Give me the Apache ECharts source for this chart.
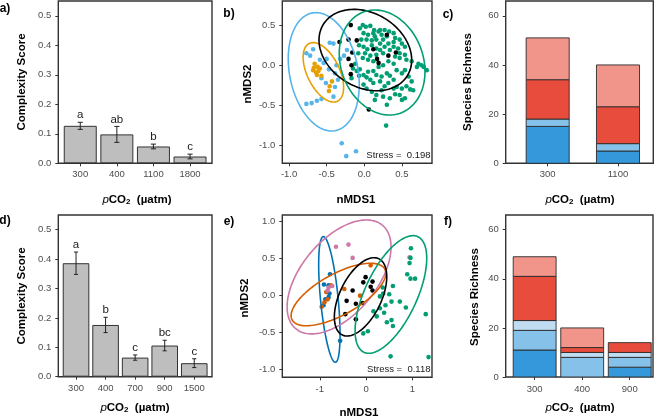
<!DOCTYPE html>
<html><head><meta charset="utf-8">
<script src="https://cdn.jsdelivr.net/npm/echarts@6/dist/echarts.min.js"></script>
<style>html,body{margin:0;padding:0;background:#fff}#c{width:660px;height:418px}</style>
</head><body><div id="c"></div>
<script>
// ---------- Panel a ----------
const catsA = ['300','400','1100','1800'];
const meanA = [0.127, 0.098, 0.057, 0.023];
const errA  = [0.012, 0.027, 0.008, 0.008];
const letA  = ['a','ab','b','c'];
// ---------- Panel d ----------
const catsD = ['300','400','700','900','1500'];
const meanD = [0.386, 0.176, 0.065, 0.106, 0.046];
const errD  = [0.038, 0.026, 0.009, 0.018, 0.015];
const letD  = ['a','b','c','bc','c'];
const ticksScore = [0, 0.1, 0.2, 0.3, 0.4, 0.5];
// ---------- Panel c ----------
const catsC = ['300','1100'];
const cDarkBlue  = [15, 5];
const cLightBlue = [3, 3];
const cRed       = [16, 15];
const cLightRed  = [17, 17];
// ---------- Panel f ----------
const catsF = ['300','400','900'];
const fDarkBlue  = [11, 0, 4];
const fLightBlue = [8, 8, 4];
const fPaleBlue  = [4, 2, 2];
const fRed       = [18, 2, 4];
const fLightRed  = [8, 8, 0];
const ticksRich = [0, 20, 40, 60];
// ---------- Panel b (nMDS) ----------
const bBlue = [[-0.46,0.28],[-0.41,0.27],[-0.68,0.20],[-0.77,0.15],[-0.72,0.12],[-0.59,0.07],[-0.50,0.08],[-0.37,0.00],[-0.47,-0.05],[-0.39,-0.10],[-0.57,-0.16],[-0.35,-0.18],[-0.51,-0.22],[-0.39,-0.27],[-0.41,-0.39],[-0.77,-0.48],[-0.70,-0.47],[-0.63,-0.44],[-0.57,-0.42],[-0.30,-0.97],[-0.11,-1.07],[-0.24,-1.13],[-0.23,0.19],[-0.27,0.12],[-0.32,0.08],[-0.54,0.03]];
const bOrange = [[-0.66,0.02],[-0.62,-0.02],[-0.68,-0.06],[-0.61,-0.07],[-0.64,-0.09],[-0.59,-0.04],[-0.57,-0.13],[-0.43,-0.20],[-0.46,-0.26],[-0.47,-0.32],[-0.63,-0.12],[-0.67,-0.03]];
const bBlack = [[-0.18,0.50],[-0.33,0.29],[-0.21,0.32],[-0.10,0.31],[0.12,0.20],[0.30,0.38],[0.32,0.12],[0.42,0.16],[0.17,0.08],[0.19,0.03],[-0.16,0.16],[-0.21,0.08],[-0.17,0.00],[-0.18,-0.11],[0.06,-0.55]];
const bGreen = [[-0.02,0.50],[0.02,0.48],[0.08,0.49],[-0.06,0.46],[0.21,0.44],[0.27,0.44],[0.12,0.40],[0.19,0.42],[-0.01,0.40],[0.05,0.38],[0.14,0.36],[0.23,0.38],[0.30,0.36],[0.41,0.34],[0.47,0.32],[0.39,0.29],[0.50,0.27],[0.54,0.23],[0.25,0.32],[0.16,0.32],[0.10,0.31],[0.03,0.32],[-0.04,0.32],[-0.07,0.25],[-0.01,0.23],[0.04,0.20],[0.16,0.21],[0.21,0.19],[0.27,0.23],[0.34,0.19],[0.39,0.23],[0.45,0.21],[0.25,0.15],[0.16,0.13],[0.08,0.12],[0.01,0.15],[-0.02,0.09],[0.05,0.07],[0.12,0.05],[0.19,-0.02],[0.25,0.00],[0.32,0.05],[0.39,0.02],[0.47,0.09],[0.56,0.07],[0.63,0.05],[0.72,0.02],[0.76,0.00],[0.79,-0.02],[0.83,-0.06],[0.70,-0.02],[-0.15,-0.04],[-0.10,-0.07],[-0.06,-0.05],[-0.07,-0.13],[-0.01,-0.12],[0.03,-0.15],[0.08,-0.18],[0.12,-0.22],[0.16,-0.12],[0.23,-0.14],[0.30,-0.10],[0.34,-0.13],[0.21,-0.20],[0.27,-0.26],[0.32,-0.22],[0.39,-0.18],[0.43,-0.27],[0.50,-0.29],[0.56,-0.26],[0.61,-0.30],[0.65,-0.31],[0.63,-0.20],[0.47,-0.37],[0.54,-0.41],[0.41,-0.36],[0.34,-0.41],[0.25,-0.39],[0.16,-0.37],[0.10,-0.33],[0.03,-0.29],[-0.01,-0.24],[0.14,-0.43],[0.30,-0.49],[0.50,-0.43],[0.29,-0.75],[-0.17,-0.16],[-0.12,0.02],[-0.08,0.15],[0.13,0.44],[0.33,0.42],[0.39,0.40],[0.10,0.25],[0.32,0.27],[0.21,0.27],[0.12,-0.07],[0.05,-0.08],[0.43,-0.06],[0.50,-0.10],[0.54,-0.06],[0.59,-0.14],[0.39,-0.29],[0.23,-0.31],[0.47,0.15],[0.54,0.13],[0.41,0.11]];
// ellipse: [centre x, centre y, half-width, half-height, y-offset of rightmost point]
const ellB = [[-0.539,-0.081,0.472,0.736,-0.162],[-0.544,-0.087,0.269,0.370,-0.187],[0.014,0.190,0.616,0.506,-0.124],[0.237,0.035,0.570,0.653,-0.112]];
const ellBColors = ['#56B4E9','#E69F00','#000000','#009E73'];
const ticksB = [-1, -0.5, 0, 0.5];
// ---------- Panel e (nMDS) ----------
const eBlue = [[-0.78,0.29],[-0.91,0.15],[-0.81,0.14],[-0.79,0.03],[-0.81,-0.02],[-0.88,-0.05],[-0.92,-0.13],[-0.56,-0.61]];
const eOrange = [[0.10,0.41],[-0.76,0.14],[-0.86,0.05],[-0.90,-0.09],[-0.83,-0.05],[-0.47,0.09],[-0.13,0.00],[-0.96,-0.15]];
const ePink = [[-0.65,0.66],[-0.38,0.69],[-0.29,0.51],[0.94,0.52],[-0.81,0.11],[-0.73,0.13],[-0.83,0.07]];
const eBlack = [[-0.01,0.25],[-0.06,0.18],[0.14,0.19],[0.10,0.12],[-0.29,0.07],[-0.42,-0.07],[-0.22,-0.11],[-0.08,-0.10],[-0.45,-0.25],[-0.22,-0.32],[0.14,0.07]];
const eGreen = [[0.97,0.64],[0.96,0.51],[0.94,0.44],[0.89,0.29],[0.96,0.23],[1.06,0.23],[0.58,0.13],[0.36,0.11],[0.37,0.03],[0.50,0.02],[0.30,-0.01],[0.55,-0.08],[0.73,-0.08],[0.30,-0.17],[0.16,-0.21],[0.39,-0.23],[0.42,-0.13],[0.86,-0.16],[0.45,-0.36],[0.55,-0.33],[0.58,-0.41],[0.04,-0.48],[-0.06,-0.51],[0.53,-0.82],[1.35,-0.83],[1.29,-0.25],[0.23,-0.28]];
const ellE = [[-0.793,-0.051,0.231,0.849,-0.473],[-0.583,0.253,1.123,0.770,0.405],[-0.597,0.016,1.023,0.422,0.286],[-0.119,-0.016,0.566,0.529,0.272],[0.537,0.016,0.774,0.795,0.489]];
const ellEColors = ['#0072B2','#CC79A7','#D55E00','#000000','#009E73'];
const ticksEx = [-1, 0, 1];
const ticksEy = [-1, -0.5, 0, 0.5, 1];

const F = 'Liberation Sans, Arial, Helvetica, sans-serif';
const chart = echarts.init(document.getElementById('c'), null, {renderer:'canvas'});

function grid(l, t, w, h) {
  return {left:l, top:t, width:w, height:h, show:true, borderColor:'#333', borderWidth:1.4,
          backgroundColor:'transparent', containLabel:false, outerBoundsMode:'none'};
}
function axis(gi, min, max, ticks, fmt, margin) {
  return {type:'value', gridIndex:gi, min:min, max:max, scale:false,
    axisLine:{show:false, onZero:false}, splitLine:{show:false},
    axisTick:{show:true, customValues:ticks, length:3, lineStyle:{color:'#333', width:1}},
    axisLabel:{show:true, customValues:ticks, formatter:fmt, color:'#4d4d4d', fontSize:9.5, fontFamily:F, margin:margin}};
}
const fx1 = v => v.toFixed(1);
const catFmt = cats => (v => cats[Math.round(v) - 1] || '');

function barData(vals) { return vals.map((v, i) => [i + 1, v]); }

function errSeries(gi, means, errs, lets) {
  return {type:'custom', xAxisIndex:gi, yAxisIndex:gi, clip:false, z:5,
    data: means.map((m, i) => [i + 1, m, errs[i]]),
    encode:{x:0, y:1},
    renderItem: function (params, api) {
      const x = api.value(0), m = api.value(1), e = api.value(2);
      const top = api.coord([x, m + e]), bot = api.coord([x, m - e]);
      const hw = api.size([0.07, 0])[0];
      const ls = {stroke:'#222', lineWidth:1};
      return {type:'group', children:[
        {type:'line', shape:{x1:top[0], y1:top[1], x2:bot[0], y2:bot[1]}, style:ls},
        {type:'line', shape:{x1:top[0]-hw, y1:top[1], x2:top[0]+hw, y2:top[1]}, style:ls},
        {type:'line', shape:{x1:bot[0]-hw, y1:bot[1], x2:bot[0]+hw, y2:bot[1]}, style:ls},
        {type:'text', x:top[0], y:top[1]-1, style:{text:lets[params.dataIndex], align:'center', verticalAlign:'bottom', fontSize:11.5, fontFamily:F, fill:'#1a1a1a'}}
      ]};
    }};
}
function ellSeries(gi, ells, cols) {
  return {type:'custom', xAxisIndex:gi, yAxisIndex:gi, clip:true, z:4,
    data: ells, encode:{x:0, y:1},
    renderItem: function (params, api) {
      const cx = api.value(0), cy = api.value(1), rx = api.value(2), ry = api.value(3), yr = api.value(4);
      const k = Math.sqrt(Math.max(ry * ry - yr * yr, 0));
      const pts = [];
      for (let i = 0; i <= 120; i++) {
        const t = i / 120 * 2 * Math.PI;
        pts.push(api.coord([cx + rx * Math.cos(t), cy + yr * Math.cos(t) + k * Math.sin(t)]));
      }
      return {type:'polyline', shape:{points:pts}, style:{stroke:cols[params.dataIndex], fill:null, lineWidth:1.6}};
    }};
}
function pts(gi, data, color) {
  return {type:'scatter', xAxisIndex:gi, yAxisIndex:gi, data:data, symbolSize:4.6,
          itemStyle:{color:color, opacity:1}, z:3, silent:true};
}
// stacked bars: each layer drawn from the running total of the layers below it
function stackSeries(gi, layers, colors, w) {
  const base = layers[0].map(() => 0);
  return layers.map((vals, j) => {
    const data = vals.map((v, i) => { const d = [i + 1, base[i], base[i] + v]; base[i] += v; return d; });
    return {type:'custom', xAxisIndex:gi, yAxisIndex:gi, clip:true, z:2, data:data, encode:{x:0, y:2},
      renderItem: function (params, api) {
        const x = api.value(0), b = api.value(1), t = api.value(2);
        if (t <= b) return null;
        const p1 = api.coord([x - w / 2, t]), p2 = api.coord([x + w / 2, b]);
        return {type:'rect', shape:{x:p1[0], y:p1[1], width:p2[0] - p1[0], height:p2[1] - p1[1]},
                style:{fill:colors[j], stroke:'#2b2b2b', lineWidth:0.9}};
      }};
  });
}

const C_DB = '#3498DB', C_LB = '#85C1E9', C_PB = '#BFDCF1', C_R = '#E74C3C', C_LR = '#F1948A';

const richCO2 = {
  i:{fontStyle:'italic', fontSize:11.5, fontFamily:F, fill:'#000', lineHeight:14, verticalAlign:'bottom'},
  b:{fontWeight:'bold', fontSize:11.5, fontFamily:F, fill:'#000', lineHeight:14, verticalAlign:'bottom'},
  s:{fontWeight:'bold', fontSize:8, fontFamily:F, fill:'#000', lineHeight:7, verticalAlign:'bottom'}
};
function co2Title(x, y) {
  return {type:'text', x:x, y:y, style:{text:'{i|p}{b|CO}{s|2}{b|  (µatm)}', rich:richCO2, align:'center', verticalAlign:'middle'}};
}
function boldText(x, y, t, rot, size) {
  return {type:'text', x:x, y:y, rotation:rot || 0, style:{text:t, fontWeight:'bold', fontSize:size || 11.5, fontFamily:F, fill:'#000', align:'center', verticalAlign:'middle'}};
}
function plainText(x, y, t) {
  return {type:'text', x:x, y:y, style:{text:t, fontSize:9.5, fontFamily:F, fill:'#1a1a1a', align:'right', verticalAlign:'middle'}};
}
const R = Math.PI / 2;

chart.setOption({
  animation:false,
  backgroundColor:'#ffffff',
  grid:[
    grid(58.3, 1, 153.7, 162.3),
    grid(282.3, 1, 149.7, 162.3),
    grid(505.7, 1, 147.6, 162.3),
    grid(58.3, 215, 153.7, 161.7),
    grid(282.3, 215, 149.7, 162.3),
    grid(505.7, 215, 147.3, 162)
  ],
  xAxis:[
    axis(0, 0.4, 4.6, [1,2,3,4], catFmt(catsA), 6),
    axis(1, -1.09, 0.90, ticksB, fx1, 6),
    axis(2, 0.403, 2.502, [1,2], catFmt(catsC), 6),
    axis(3, 0.4, 5.6, [1,2,3,4,5], catFmt(catsD), 7),
    axis(4, -1.81, 1.425, ticksEx, v => String(v), 7),
    axis(5, 0.391, 3.489, [1,2,3], catFmt(catsF), 7)
  ],
  yAxis:[
    axis(0, 0, 0.55, ticksScore, fx1, 7),
    axis(1, -1.219, 0.80, ticksB, fx1, 7),
    axis(2, 0, 66, ticksRich, v => String(v), 7),
    axis(3, 0, 0.55, ticksScore, fx1, 7),
    axis(4, -1.103, 1.09, ticksEy, fx1, 7),
    axis(5, 0, 66, ticksRich, v => String(v), 7)
  ],
  series:[
    {type:'bar', xAxisIndex:0, yAxisIndex:0, data:barData(meanA), barWidth:33,
     itemStyle:{color:'#BEBEBE', borderColor:'#333', borderWidth:1}},
    errSeries(0, meanA, errA, letA),
    {type:'bar', xAxisIndex:3, yAxisIndex:3, data:barData(meanD), barWidth:26.6,
     itemStyle:{color:'#BEBEBE', borderColor:'#333', borderWidth:1}},
    errSeries(3, meanD, errD, letD),
    ...stackSeries(2, [cDarkBlue, cLightBlue, cRed, cLightRed], [C_DB, C_LB, C_R, C_LR], 0.612),
    ...stackSeries(5, [fDarkBlue, fLightBlue, fPaleBlue, fRed, fLightRed], [C_DB, C_LB, C_PB, C_R, C_LR], 0.902),
    pts(1, bBlue, '#56B4E9'),
    pts(1, bOrange, '#E69F00'),
    pts(1, bGreen, '#009E73'),
    pts(1, bBlack, '#000000'),
    ellSeries(1, ellB, ellBColors),
    pts(4, eBlue, '#0072B2'),
    pts(4, eOrange, '#D55E00'),
    pts(4, ePink, '#CC79A7'),
    pts(4, eGreen, '#009E73'),
    pts(4, eBlack, '#000000'),
    ellSeries(4, ellE, ellEColors)
  ],
  graphic:{elements:[
    boldText(5, 8.5, 'a)', 0, 12),
    boldText(229, 14, 'b)', 0, 12),
    boldText(448, 14.5, 'c)', 0, 12),
    boldText(5, 221, 'd)', 0, 12),
    boldText(229, 221.5, 'e)', 0, 12),
    boldText(448, 221.5, 'f)', 0, 12),
    boldText(22, 82, 'Complexity Score', R),
    boldText(22, 296, 'Complexity Score', R),
    boldText(248, 84, 'nMDS2', R),
    boldText(245, 298, 'nMDS2', R),
    boldText(468, 82, 'Species Richness', R),
    boldText(475, 297, 'Species Richness', R),
    co2Title(137, 199),
    co2Title(135, 407),
    co2Title(580, 199),
    co2Title(580, 407),
    boldText(356, 200, 'nMDS1'),
    boldText(359, 412.5, 'nMDS1'),
    plainText(430.5, 155, 'Stress =  0.198'),
    plainText(430.5, 369.5, 'Stress =  0.118')
  ]}
});
</script></body></html>
